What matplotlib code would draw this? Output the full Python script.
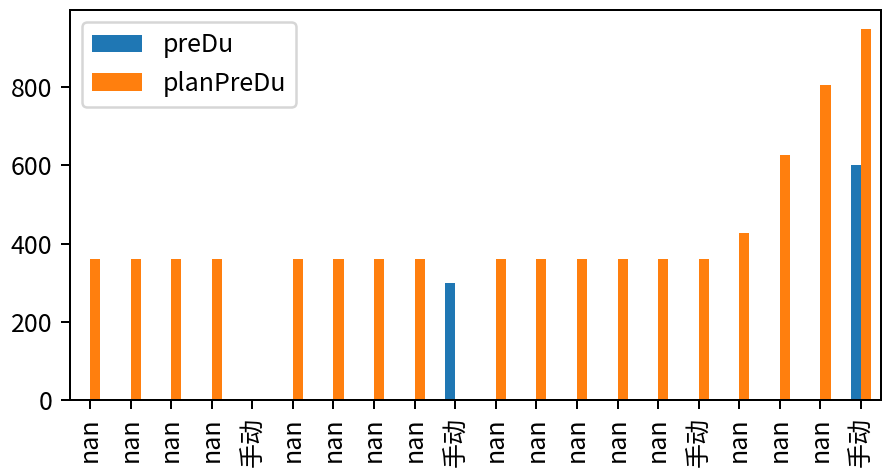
import numpy as np
import pandas as pd
import matplotlib
matplotlib.use("Agg")
import matplotlib.pyplot as plt

plt.rcParams['font.family'] = ['Noto Sans CJK SC', 'DejaVu Sans']
plt.rcParams['axes.unicode_minus'] = False

# 数据
labels = ['nan', 'nan', 'nan', 'nan', '手动', 'nan', 'nan', 'nan', 'nan', '手动',
          'nan', 'nan', 'nan', 'nan', 'nan', '手动', 'nan', 'nan', 'nan', '手动']
preDu = [np.nan, np.nan, np.nan, np.nan, np.nan, np.nan, np.nan, np.nan, np.nan, 300,
         np.nan, np.nan, np.nan, np.nan, np.nan, np.nan, np.nan, np.nan, np.nan, 600]
planPreDu = [360, 360, 360, 360, np.nan, 360, 360, 360, 360, np.nan,
             360, 360, 360, 360, 360, 360, 428, 626, 805, 950]

df = pd.DataFrame({'preDu': preDu, 'planPreDu': planPreDu}, index=labels)

fig, ax = plt.subplots(figsize=(883 / 180, 475 / 180), dpi=180)
df.plot(kind='bar', ax=ax)
ax.set_xticklabels(labels, rotation=90)
ax.legend(loc='upper left')

plt.subplots_adjust(left=0.079, right=0.998, bottom=0.158, top=0.979)
plt.savefig('out.png', dpi=180)
